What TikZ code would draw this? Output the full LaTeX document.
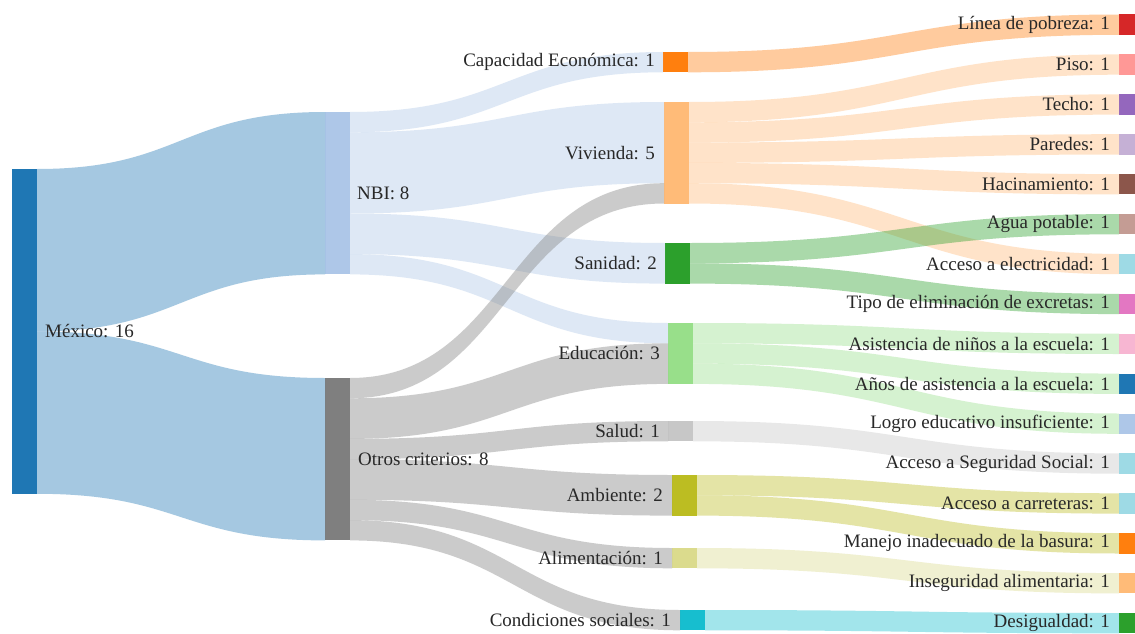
\documentclass[tikz,border=0pt]{standalone}
\usepackage{fontspec}
\setmainfont{Liberation Serif}
\usetikzlibrary{calc}

% band between two bars: source, offset, target, offset, size (in units), colour
\newcommand{\flow}[6]{%
  \coordinate (s1) at ($(#1.north east)+(0,#2*\vu)$);
  \coordinate (s2) at ($(#1.north east)+(0,#2*\vu+#5*\vu)$);
  \coordinate (t1) at ($(#3.north west)+(0,#4*\vu)$);
  \coordinate (t2) at ($(#3.north west)+(0,#4*\vu+#5*\vu)$);
  \coordinate (m) at ($(s1)!.5!(t1)$);
  \fill[#6, fill opacity=.4] (s1) .. controls (m |- s1) and (m |- t1) .. (t1)
    -- (t2) .. controls (m |- t2) and (m |- s2) .. (s2) -- cycle;
}

\begin{document}
\begin{tikzpicture}[x=1pt, y=-1pt,
  bar/.style 2 args={fill=#1, draw=none, minimum width=25pt, minimum height=#2*20.3pt,
    inner sep=0pt, outer sep=0pt, anchor=north west},
  lbl/.style={font=\fontsize{19}{23}\selectfont, text=txtgray, inner sep=0pt}]
  % colors
  \definecolor{txtgray}{RGB}{40,40,40}
  \definecolor{tabblue}{HTML}{1F77B4}
  \definecolor{tabltblue}{HTML}{AEC7E8}
  \definecolor{taborange}{HTML}{FF7F0E}
  \definecolor{tabltorange}{HTML}{FFBB78}
  \definecolor{tabgreen}{HTML}{2CA02C}
  \definecolor{tabltgreen}{HTML}{98DF8A}
  \definecolor{tabred}{HTML}{D62728}
  \definecolor{tabltred}{HTML}{FF9896}
  \definecolor{tabpurple}{HTML}{9467BD}
  \definecolor{tabltpurple}{HTML}{C5B0D5}
  \definecolor{tabbrown}{HTML}{8C564B}
  \definecolor{tabltbrown}{HTML}{C49C94}
  \definecolor{tabpink}{HTML}{E377C2}
  \definecolor{tabltpink}{HTML}{F7B6D2}
  \definecolor{tabgray}{HTML}{7F7F7F}
  \definecolor{tabltgray}{HTML}{C7C7C7}
  \definecolor{tabolive}{HTML}{BCBD22}
  \definecolor{tabltolive}{HTML}{DBDB8D}
  \definecolor{tabcyan}{HTML}{17BECF}
  \definecolor{tabltcyan}{HTML}{9EDAE5}

  % parameters
  \def\vu{20.3} % height of one unit

  % frame
  \fill[white] (0,0) rectangle (1135,634);
  \clip (0,0) rectangle (1135,634);

  % bars, column 1 and 2
  \node[bar={tabblue}{16}] (mex) at (12,169) {};
  \node[bar={tabltblue}{8}] (nbi) at (325,112) {};
  \node[bar={tabgray}{8}] (otros) at (325,378) {};

  % bars, column 3
  \node[bar={taborange}{1}] (cap) at (663,52) {};
  \node[bar={tabltorange}{5}] (viv) at (664,102) {};
  \node[bar={tabgreen}{2}] (san) at (665,243) {};
  \node[bar={tabltgreen}{3}] (edu) at (668,323) {};
  \node[bar={tabltgray}{1}] (sal) at (668,421) {};
  \node[bar={tabolive}{2}] (amb) at (672,475) {};
  \node[bar={tabltolive}{1}] (ali) at (672,548) {};
  \node[bar={tabcyan}{1}] (con) at (680,610) {};

  % bars, column 4
  \node[bar={tabred}{1}] (linea) at (1119,14.5) {};
  \node[bar={tabltred}{1}] (piso) at (1119,54.4) {};
  \node[bar={tabpurple}{1}] (techo) at (1119,94.3) {};
  \node[bar={tabltpurple}{1}] (paredes) at (1119,134.2) {};
  \node[bar={tabbrown}{1}] (hacin) at (1119,174.1) {};
  \node[bar={tabltbrown}{1}] (agua) at (1119,214) {};
  \node[bar={tabltcyan}{1}] (elec) at (1119,253.9) {};
  \node[bar={tabpink}{1}] (excr) at (1119,293.8) {};
  \node[bar={tabltpink}{1}] (asist) at (1119,333.7) {};
  \node[bar={tabblue}{1}] (anios) at (1119,373.6) {};
  \node[bar={tabltblue}{1}] (logro) at (1119,413.5) {};
  \node[bar={tabltcyan}{1}] (segsoc) at (1119,453.4) {};
  \node[bar={tabltcyan}{1}] (carr) at (1119,493.3) {};
  \node[bar={taborange}{1}] (basura) at (1119,533.2) {};
  \node[bar={tabltorange}{1}] (insal) at (1119,573.1) {};
  \node[bar={tabgreen}{1}] (desig) at (1119,613) {};

  % bands
  \flow{mex}{0}{nbi}{0}{8}{tabblue}
  \flow{mex}{8}{otros}{0}{8}{tabblue}
  \flow{nbi}{0}{cap}{0}{1}{tabltblue}
  \flow{nbi}{1}{viv}{0}{4}{tabltblue}
  \flow{nbi}{5}{san}{0}{2}{tabltblue}
  \flow{nbi}{7}{edu}{0}{1}{tabltblue}
  \flow{otros}{0}{viv}{4}{1}{tabgray}
  \flow{otros}{1}{edu}{1}{2}{tabgray}
  \flow{otros}{3}{sal}{0}{1}{tabgray}
  \flow{otros}{4}{amb}{0}{2}{tabgray}
  \flow{otros}{6}{ali}{0}{1}{tabgray}
  \flow{otros}{7}{con}{0}{1}{tabgray}
  \flow{cap}{0}{linea}{0}{1}{taborange}
  \flow{viv}{0}{piso}{0}{1}{tabltorange}
  \flow{viv}{1}{techo}{0}{1}{tabltorange}
  \flow{viv}{2}{paredes}{0}{1}{tabltorange}
  \flow{viv}{3}{hacin}{0}{1}{tabltorange}
  \flow{viv}{4}{elec}{0}{1}{tabltorange}
  \flow{san}{0}{agua}{0}{1}{tabgreen}
  \flow{san}{1}{excr}{0}{1}{tabgreen}
  \flow{edu}{0}{asist}{0}{1}{tabltgreen}
  \flow{edu}{1}{anios}{0}{1}{tabltgreen}
  \flow{edu}{2}{logro}{0}{1}{tabltgreen}
  \flow{sal}{0}{segsoc}{0}{1}{tabltgray}
  \flow{amb}{0}{carr}{0}{1}{tabolive}
  \flow{amb}{1}{basura}{0}{1}{tabolive}
  \flow{ali}{0}{insal}{0}{1}{tabltolive}
  \flow{con}{0}{desig}{0}{1}{tabcyan}

  % labels, left side
  \node[lbl, anchor=west] (mex-l) at ($(mex.east)+(8,0)$) {México: 16};
  \node[lbl, anchor=west] (nbi-l) at ($(nbi.east)+(7,0)$) {NBI: 8};
  \node[lbl, anchor=west] (otros-l) at ($(otros.east)+(8,0)$) {Otros criterios: 8};

  % labels, column 3
  \node[lbl, anchor=east] (cap-l) at ($(cap.west)+(-8,0)$) {Capacidad Económica: 1};
  \node[lbl, anchor=east] (viv-l) at ($(viv.west)+(-9,0)$) {Vivienda: 5};
  \node[lbl, anchor=east] (san-l) at ($(san.west)+(-8,0)$) {Sanidad: 2};
  \node[lbl, anchor=east] (edu-l) at ($(edu.west)+(-8,0)$) {Educación: 3};
  \node[lbl, anchor=east] (sal-l) at ($(sal.west)+(-8,0)$) {Salud: 1};
  \node[lbl, anchor=east] (amb-l) at ($(amb.west)+(-9,0)$) {Ambiente: 2};
  \node[lbl, anchor=east] (ali-l) at ($(ali.west)+(-9,0)$) {Alimentación: 1};
  \node[lbl, anchor=east] (con-l) at ($(con.west)+(-9,0)$) {Condiciones sociales: 1};

  % labels, column 4
  \node[lbl, anchor=east] (linea-l) at ($(linea.west)+(-9,0)$) {Línea de pobreza: 1};
  \node[lbl, anchor=east] (piso-l) at ($(piso.west)+(-9,0)$) {Piso: 1};
  \node[lbl, anchor=east] (techo-l) at ($(techo.west)+(-9,0)$) {Techo: 1};
  \node[lbl, anchor=east] (paredes-l) at ($(paredes.west)+(-9,0)$) {Paredes: 1};
  \node[lbl, anchor=east] (hacin-l) at ($(hacin.west)+(-9,0)$) {Hacinamiento: 1};
  \node[lbl, anchor=east] (agua-l) at ($(agua.west)+(-9,0)$) {Agua potable: 1};
  \node[lbl, anchor=east] (elec-l) at ($(elec.west)+(-9,0)$) {Acceso a electricidad: 1};
  \node[lbl, anchor=east] (excr-l) at ($(excr.west)+(-9,0)$) {Tipo de eliminación de excretas: 1};
  \node[lbl, anchor=east] (asist-l) at ($(asist.west)+(-9,0)$) {Asistencia de niños a la escuela: 1};
  \node[lbl, anchor=east] (anios-l) at ($(anios.west)+(-9,0)$) {Años de asistencia a la escuela: 1};
  \node[lbl, anchor=east] (logro-l) at ($(logro.west)+(-9,0)$) {Logro educativo insuficiente: 1};
  \node[lbl, anchor=east] (segsoc-l) at ($(segsoc.west)+(-9,0)$) {Acceso a Seguridad Social: 1};
  \node[lbl, anchor=east] (carr-l) at ($(carr.west)+(-9,0)$) {Acceso a carreteras: 1};
  \node[lbl, anchor=east] (basura-l) at ($(basura.west)+(-9,0)$) {Manejo inadecuado de la basura: 1};
  \node[lbl, anchor=east] (insal-l) at ($(insal.west)+(-9,0)$) {Inseguridad alimentaria: 1};
  \node[lbl, anchor=east] (desig-l) at ($(desig.west)+(-9,0)$) {Desigualdad: 1};
\end{tikzpicture}
\end{document}
